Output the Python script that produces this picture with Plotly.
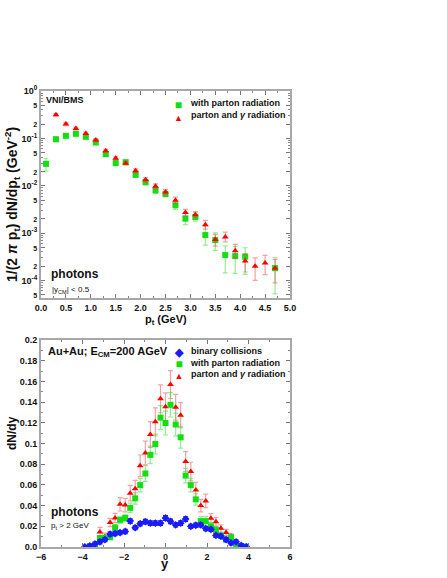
"""Photon spectra: pt distribution (log) and rapidity distribution, two stacked panels."""

import plotly.graph_objects as go

FONT = "Liberation Sans, Arial, sans-serif"
GREEN = "#10e010"
GREEN_ERR = "rgba(60, 220, 60, 0.55)"
RED = "#ff0000"
RED_ERR = "rgba(235, 70, 70, 0.5)"
BLUE = "#1a1aff"
FRAME = "#a8a8a8"

# ---- top panel: 1/(2 pi pt) dN/dpt vs pt ----
pt_green = [0.1, 0.3, 0.5, 0.7, 0.9, 1.1, 1.3, 1.5, 1.7, 1.9, 2.1, 2.3, 2.5, 2.7,
            2.9, 3.1, 3.3, 3.5, 3.7, 3.9, 4.1, 4.7]
spec_green = [0.029, 0.096, 0.113, 0.125, 0.108, 0.082, 0.0465, 0.030, 0.0314, 0.017,
              0.0119, 0.0080, 0.0067, 0.00387, 0.00202, 0.00219, 0.00091, 0.000714,
              0.000345, 0.000327, 0.000317, 0.000182]
spec_green_up = [0.0086, 0.011, 0.010, 0.011, 0.010, 0.008, 0.0045, 0.003, 0.003, 0.002,
                 0.0015, 0.0011, 0.0009, 0.0007, 0.00077, 0.0005, 0.0005, 0.0003,
                 0.00019, 0.0002, 0.000174, 0.00012]
spec_green_dn = [0.0087, 0.011, 0.010, 0.011, 0.010, 0.008, 0.0045, 0.003, 0.003, 0.002,
                 0.0015, 0.0011, 0.0009, 0.0007, 0.00051, 0.0004, 0.00035, 0.00028,
                 0.0002, 0.000186, 0.000183, 0.00013]

pt_red = [0.3, 0.5, 0.7, 0.9, 1.1, 1.3, 1.5, 1.7, 1.9, 2.1, 2.3, 2.5, 2.7, 2.9, 3.1,
          3.3, 3.5, 3.7, 3.9, 4.1, 4.3, 4.5, 4.7]
spec_red = [0.315, 0.200, 0.162, 0.127, 0.092, 0.0546, 0.0382, 0.030, 0.0206, 0.0133,
            0.0098, 0.0074, 0.00493, 0.00271, 0.00245, 0.00151, 0.00073, 0.00083,
            0.000426, 0.000258, 0.0002, 0.000233, 0.000182]
spec_red_up = [0.02, 0.014, 0.011, 0.009, 0.007, 0.004, 0.003, 0.0025, 0.002, 0.0015,
               0.0012, 0.0009, 0.0008, 0.00045, 0.0004, 0.00035, 0.00021, 0.00022,
               0.00015, 0.00011, 0.0001, 0.000106, 0.000096]
spec_red_dn = [0.02, 0.014, 0.011, 0.009, 0.007, 0.004, 0.003, 0.0025, 0.002, 0.0015,
               0.0012, 0.0009, 0.0008, 0.00041, 0.00033, 0.0003, 0.0002, 0.00018,
               0.000126, 0.000107, 0.0001, 0.0001, 0.000093]

log_tickvals = [1, 0.5, 0.2, 0.1, 0.05, 0.02, 0.01, 0.005, 0.002, 0.001,
                0.0005, 0.0002, 0.0001, 0.00005]
log_tickdigits = ["0", "5", "2", "-1", "5", "2", "-2", "5", "2", "-3", "5", "2", "-4", "5"]
log_minor = [m * 10.0 ** e for e in range(-5, 0) for m in (2, 3, 4, 5, 6, 7, 8, 9)]

# ---- bottom panel: dN/dy vs y ----
rap = [-3.89, -3.65, -3.40, -3.16, -2.92, -2.67, -2.43, -2.19, -1.94, -1.70, -1.46,
       -1.22, -0.97, -0.73, -0.49, -0.24, 0.0, 0.24, 0.49, 0.73, 0.97, 1.22, 1.46,
       1.70, 1.94, 2.19, 2.43, 2.67, 2.92, 3.16, 3.40, 3.65, 3.89]
dndy_binary = [0.0, 0.001, 0.003, 0.005, 0.0072, 0.0125, 0.013, 0.0139, 0.015, 0.025,
               0.0187, 0.0225, 0.0245, 0.023, 0.023, 0.023, 0.028, 0.0248, 0.0213,
               0.023, 0.027, 0.020, 0.021, 0.0213, 0.0178, 0.017, 0.0112, 0.0104,
               0.0072, 0.0039, 0.005, 0.0015, 0.0003]
dndy_binary_err = [0.0015, 0.0015, 0.0018, 0.002, 0.002, 0.002, 0.002, 0.002, 0.002,
                   0.0022, 0.002, 0.002, 0.0022, 0.0022, 0.0022, 0.0022, 0.0024, 0.0022,
                   0.002, 0.0022, 0.0022, 0.002, 0.002, 0.002, 0.002, 0.002, 0.002,
                   0.002, 0.002, 0.0018, 0.0018, 0.0015, 0.0015]
dndy_green = [None, 0.0008, 0.001, 0.0087, 0.009, 0.0094, 0.0188, 0.0262, 0.028, 0.0378,
              0.047, 0.0598, 0.071, 0.089, 0.0995, 0.125, 0.1197, 0.1374, 0.1184, 0.106,
              0.069, 0.0598, 0.046, 0.025, 0.025, 0.020, 0.0166, 0.0112, 0.0072, 0.0095,
              0.002, 0.001, 0.0003]
dndy_green_err = [None, 0.001, 0.001, 0.002, 0.002, 0.002, 0.003, 0.0035, 0.0035,
                  0.0045, 0.0055, 0.0065, 0.0075, 0.0085, 0.0095, 0.0115, 0.0115, 0.0118,
                  0.011, 0.0105, 0.007, 0.0065, 0.0055, 0.0045, 0.0045, 0.0035, 0.003,
                  0.002, 0.0015, 0.002, 0.001, 0.001, 0.0008]
dndy_red = [None, 0.0013, 0.001, 0.0145, 0.010, 0.0237, 0.028, 0.0413, 0.0405, 0.052,
            0.0563, 0.0784, 0.0908, 0.1087, 0.121, 0.1432, 0.1355, 0.157, 0.135, 0.1274,
            0.0826, 0.0729, 0.055, 0.040, 0.0445, 0.0277, 0.0245, 0.018, 0.014, 0.0103,
            0.004, 0.0013, 0.0006]
dndy_red_err = [None, 0.001, 0.001, 0.0045, 0.0035, 0.004, 0.0045, 0.0065, 0.0065,
                0.0075, 0.008, 0.0105, 0.0115, 0.0125, 0.0135, 0.0135, 0.0135, 0.0135,
                0.0125, 0.012, 0.0095, 0.009, 0.0075, 0.006, 0.0065, 0.0045, 0.004,
                0.0035, 0.003, 0.0025, 0.0015, 0.001, 0.0008]
dndy_ticks = [0, 0.02, 0.04, 0.06, 0.08, 0.1, 0.12, 0.14, 0.16, 0.18, 0.2]
dndy_ticktext = ["0.0", "0.02", "0.04", "0.06", "0.08", "0.1", "0.12", "0.14", "0.16",
                 "0.18", "0.2"]

W, H = 447, 578


def px(x):
    return x / W


def py(y):
    return 1 - y / H


def err(arr, color, arrminus=None):
    d = dict(type="data", array=arr, color=color, thickness=1.2, width=2.5, visible=True)
    if arrminus is not None:
        d["arrayminus"] = arrminus
    return d


def log_label(d):
    if d in ("5", "2"):
        return f"<span style='font-size:7px'>{d}</span>"
    return f"10<sup>{d}</sup>"


fig = go.Figure()

fig.add_trace(go.Scatter(
    x=pt_green, y=spec_green, mode="markers", xaxis="x", yaxis="y",
    marker=dict(symbol="square", size=6, color=GREEN),
    error_y=err(spec_green_up, GREEN_ERR, spec_green_dn)))
fig.add_trace(go.Scatter(
    x=pt_red, y=spec_red, mode="markers", xaxis="x", yaxis="y",
    marker=dict(symbol="triangle-up", size=6, color=RED),
    error_y=err(spec_red_up, RED_ERR, spec_red_dn)))

fig.add_trace(go.Scatter(
    x=rap, y=dndy_red, mode="markers", xaxis="x2", yaxis="y2",
    marker=dict(symbol="triangle-up", size=6, color=RED),
    error_y=err(dndy_red_err, RED_ERR)))
fig.add_trace(go.Scatter(
    x=rap, y=dndy_green, mode="markers", xaxis="x2", yaxis="y2",
    marker=dict(symbol="square", size=6, color=GREEN),
    error_y=err(dndy_green_err, GREEN_ERR)))
fig.add_trace(go.Scatter(
    x=rap, y=dndy_binary, mode="markers", xaxis="x2", yaxis="y2",
    marker=dict(symbol="diamond", size=6, color=BLUE),
    error_y=err(dndy_binary_err, BLUE)))

tickfont = dict(family=FONT, size=9, color="#111", weight="bold")
common = dict(showline=True, linecolor=FRAME, linewidth=2, mirror="allticks",
              ticks="inside", ticklen=4, tickcolor="#777", showgrid=False,
              zeroline=False, tickfont=tickfont, automargin=False)
minor_style = dict(ticks="inside", ticklen=2, tickcolor="#888")

dom_x = [px(41), px(290)]
fig.update_layout(
    width=W, height=H,
    margin=dict(l=0, r=0, t=0, b=0, autoexpand=False),
    paper_bgcolor="white", plot_bgcolor="white",
    showlegend=False,
    xaxis=dict(domain=dom_x, range=[0, 5], dtick=0.5, tickformat=".1f",
               minor=dict(dtick=0.25, **minor_style), anchor="y", **common),
    yaxis=dict(domain=[py(298), py(91)], type="log", range=[-4.37, 0],
               tickmode="array", tickvals=log_tickvals,
               ticktext=[log_label(d) for d in log_tickdigits],
               minor=dict(tickmode="array", tickvals=log_minor, **minor_style),
               anchor="x", **common),
    xaxis2=dict(domain=dom_x, range=[-6, 6], dtick=2,
                minor=dict(dtick=1, **minor_style), anchor="y2", **common),
    yaxis2=dict(domain=[py(547), py(340)], range=[0, 0.2], tickmode="array",
                tickvals=dndy_ticks, ticktext=dndy_ticktext,
                minor=dict(dtick=0.01, **minor_style), anchor="x2", **common),
)


def note(x, y, text, size=10, bold=True, anchor="left", color="#111", angle=0,
         yanchor="middle"):
    fig.add_annotation(
        x=px(x), y=py(y), xref="paper", yref="paper", text=text, showarrow=False,
        xanchor=anchor, yanchor=yanchor, textangle=angle,
        align=anchor if anchor != "center" else "center",
        borderpad=0,
        font=dict(family=FONT, size=size, color=color,
                  weight="bold" if bold else "normal"))


SQ = f"<span style='color:{GREEN};font-size:12px'>■</span>"
TRI = f"<span style='color:{RED};font-size:9px'>▲</span>"
DIA = f"<span style='color:{BLUE};font-size:11px'>◆</span>"

# top panel texts
note(45, 100, "VNI/BMS", size=9)
note(50, 274, "photons", size=12)
note(51, 290, "|y<sub>CM</sub>| < 0.5", size=8, bold=False)
note(166, 320, "p<sub>t</sub> (GeV)", size=11, anchor="center")
note(12, 205, "1/(2 <i>π</i> p<sub>t</sub>) dN/dp<sub>t</sub> (GeV<sup>-2</sup>)",
     size=14, anchor="center", angle=-90)

# top legend
note(178, 97, SQ + "<br>" + TRI, size=9, anchor="center", yanchor="top")
note(189, 97, "with parton radiation<br>parton and <i>γ</i> radiation", size=9,
     yanchor="top")

# bottom panel texts
note(47, 352, "Au+Au; E<sub>CM</sub>=200 AGeV", size=11)
note(50, 512, "photons", size=12)
note(50, 526, "p<sub>t</sub> > 2 GeV", size=8, bold=False)
note(165, 563, "y", size=13, anchor="center")
note(12, 433, "dN/dy", size=12, anchor="center", angle=-90)

# bottom legend
note(179, 345, DIA + "<br>" + SQ + "<br>" + TRI, size=9, anchor="center", yanchor="top")
note(189, 345, "binary collisions<br>with parton radiation<br>parton and <i>γ</i> radiation",
     size=9, yanchor="top")

fig.write_html("out.html", config={"displayModeBar": False},
               post_script="document.body.style.margin='0px';")
